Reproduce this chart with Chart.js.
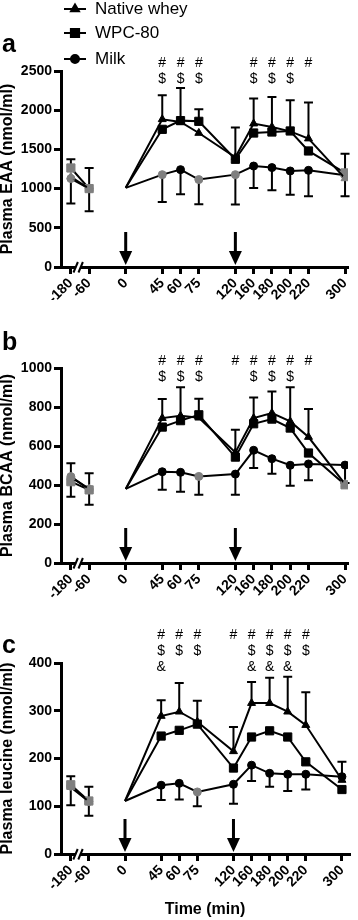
<!DOCTYPE html>
<html>
<head>
<meta charset="utf-8">
<script src="https://cdn.jsdelivr.net/npm/chart.js@4.4.1/dist/chart.umd.min.js"></script>
<style>
  html, body { margin: 0; padding: 0; background: #fff; }
  #figure { position: relative; width: 358px; height: 920px; }
  canvas { position: absolute; left: 0; }
</style>
</head>
<body>
<div id="figure">
  <canvas id="panelA" width="358" height="300" style="top:0"></canvas>
  <canvas id="panelB" width="358" height="300" style="top:300px"></canvas>
  <canvas id="panelC" width="358" height="320" style="top:600px"></canvas>
</div>
<script>
// sampling times (min)
const times = ['-180', '-60', '0', '45', '60', '75', '120', '160', '180', '200', '220', '300'];
// x axis is not to scale: one slot per label, null = empty spacer slot
const axisSlots = ['-180', '-60', null, '0', null, '45', '60', '75', null, '120', '160', '180', '200', '220', null, '300'];
const doseTimes = ['0', '120'];
const seriesNames = ['Native whey', 'WPC-80', 'Milk'];

// a: plasma EAA (nmol/ml)
const eaaWhey = [1150, 1000, 1010, 1884, 1850, 1709, 1400, 1829, 1786, 1730, 1638, 1130];
const eaaWpc  = [1263, 1000, 1010, 1756, 1867, 1858, 1374, 1709, 1722, 1735, 1480, 1200];
const eaaMilk = [1128, 1000, 1010, 1178, 1242, 1115, 1178, 1288, 1268, 1225, 1233, 1170];
const eaaWheySd = [null, null, null, 306, null, null, 378, 319, 383, 396, 459, 315];
const eaaWpcSd  = [112, 262, null, null, 416, 153, null, null, null, null, null, null];
const eaaMilkSd = [319, 290, null, 348, 315, 315, 382, 280, 290, 302, 331, 268];
const eaaSig = ['', '', '', '#$', '#$', '#$', '', '#$', '#$', '#$', '#', ''];

// b: plasma BCAA (nmol/ml)
const bcaaWhey = [440, 380, 380, 743, 755, 745, 567, 743, 769, 726, 646, 405];
const bcaaWpc  = [417, 375, 380, 697, 730, 760, 543, 714, 738, 692, 564, 401];
const bcaaMilk = [443, 378, 380, 468, 465, 444, 456, 578, 535, 501, 508, 502];
const bcaaWheySd = [71, 80, null, 98, 146, 97, 116, 106, 111, 175, 144, null];
const bcaaWpcSd  = [null, null, null, null, null, null, null, null, null, null, null, null];
const bcaaMilkSd = [103, 79, null, 92, 99, 94, 106, 91, 77, 105, 84, 92];
const bcaaSig = ['', '', '', '#$', '#$', '#$', '#', '#$', '#$', '#$', '#', ''];

// c: plasma leucine (nmol/ml)
const leuWhey = [140, 110, 111, 289, 298, 277, 215, 316, 316, 298, 270, 155];
const leuWpc  = [145, 111, 111, 247, 259, 272, 180, 245, 258, 245, 193, 135];
const leuMilk = [142, 110, 111, 144, 148, 130, 146, 186, 169, 167, 167, 162];
const leuWheySd = [23, 31, null, 33, 60, 44, 51, 44, 53, 73, 69, 38];
const leuWpcSd  = [null, null, null, null, null, null, null, null, null, null, null, null];
const leuMilkSd = [40, 30, null, 31, 34, 30, 41, 33, 28, 35, 32, null];
const leuSig = ['', '', '', '#$&', '#$', '#$', '#', '#$&', '#$&', '#$&', '#$', ''];

// points shown in grey
const greyEaa  = [['-180', '-60', '300'], ['-180', '-60', '300'], ['-180', '-60', '45', '75', '120', '300']];
const greyBcaa = [['-180', '-60', '300'], ['-180', '-60', '300'], ['-180', '-60', '75']];
const greyLeu  = [['-180', '-60'], ['-180', '-60'], ['-180', '-60', '75']];

const FONT = '"Liberation Sans", Arial, Helvetica, sans-serif';
const GREY = '#7f7f7f';
const pointStyles = ['triangle', 'rect', 'circle'];
const pointRadii = [4.6, 5.8, 4];

const slotOf = (t) => axisSlots.indexOf(t);

const errorBars = {
  id: 'errorBars',
  beforeDatasetsDraw(chart) {
    const { ctx } = chart;
    const yScale = chart.scales.y;
    ctx.save();
    ctx.strokeStyle = '#000';
    ctx.lineWidth = 2;
    chart.data.datasets.forEach((ds, i) => {
      const meta = chart.getDatasetMeta(i);
      ds.sd.forEach((sd, j) => {
        if (sd == null) return;
        const pt = meta.data[j];
        const end = yScale.getPixelForValue(ds.data[j].y + ds.sdSign * sd);
        ctx.beginPath();
        ctx.moveTo(pt.x, pt.y);
        ctx.lineTo(pt.x, end);
        ctx.moveTo(pt.x - 4.5, end);
        ctx.lineTo(pt.x + 4.5, end);
        ctx.stroke();
      });
    });
    ctx.restore();
  },
};

const panelDecor = {
  id: 'panelDecor',
  afterDraw(chart, args, opts) {
    const { ctx, chartArea } = chart;
    const xs = chart.scales.x;
    ctx.save();

    // panel letter
    ctx.fillStyle = '#000';
    ctx.font = `bold 25px ${FONT}`;
    ctx.textAlign = 'left';
    ctx.textBaseline = 'alphabetic';
    ctx.fillText(opts.letter, 2, opts.letterY);

    // significance marks
    ctx.font = `14px ${FONT}`;
    ctx.textAlign = 'center';
    ctx.textBaseline = 'middle';
    opts.sig.forEach((s, j) => {
      const x = xs.getPixelForValue(slotOf(times[j]));
      [...s].forEach((ch, k) => {
        ctx.fillText(ch, x, chartArea.top + opts.sigTop + k * 16);
      });
    });

    // dose arrows
    doseTimes.forEach((t) => {
      const x = xs.getPixelForValue(slotOf(t));
      const b = chartArea.bottom - 2;
      ctx.fillRect(x - 1.5, b - 33, 3, 20);
      ctx.beginPath();
      ctx.moveTo(x - 6.5, b - 14);
      ctx.lineTo(x + 6.5, b - 14);
      ctx.lineTo(x, b);
      ctx.closePath();
      ctx.fill();
    });

    // axis break
    const bx = xs.getPixelForValue(0.4);
    const by = chartArea.bottom;
    ctx.fillStyle = '#fff';
    ctx.fillRect(bx - 2.5, by - 2, 5, 4);
    ctx.strokeStyle = '#000';
    ctx.lineWidth = 2;
    [-2.5, 2.5].forEach((dx) => {
      ctx.beginPath();
      ctx.moveTo(bx + dx - 2.2, by + 5.5);
      ctx.lineTo(bx + dx + 2.2, by - 5);
      ctx.stroke();
    });

    // legend
    if (opts.legend) {
      chart.data.datasets.forEach((ds, i) => {
        const y = opts.legendRows[i];
        ctx.strokeStyle = '#000';
        ctx.lineWidth = 2;
        ctx.beginPath();
        ctx.moveTo(64, y);
        ctx.lineTo(86, y);
        ctx.stroke();
        ctx.fillStyle = '#000';
        Chart.helpers.drawPoint(ctx, { pointStyle: pointStyles[i], radius: pointRadii[i], rotation: 0, borderWidth: 1 }, 75, y);
        ctx.font = `17px ${FONT}`;
        ctx.textAlign = 'left';
        ctx.textBaseline = 'middle';
        ctx.fillText(ds.label, 95, y);
      });
    }
    ctx.restore();
  },
};

const tickFont = { family: FONT, size: 14, weight: 'bold' };

function makePanel(canvasId, cfg) {
  const datasets = cfg.series.map((s, i) => {
    const colorOf = (c) => (s.grey.includes(times[c.dataIndex]) ? GREY : '#000');
    return {
      label: seriesNames[i],
      data: times.map((t, j) => ({ x: slotOf(t), y: s.values[j] })),
      sd: s.sd,
      sdSign: i === 2 ? -1 : 1,
      borderColor: '#000',
      borderWidth: 2,
      tension: 0,
      pointStyle: pointStyles[i],
      pointRadius: (c) => (times[c.dataIndex] === '0' ? 0 : pointRadii[i]),
      pointBackgroundColor: colorOf,
      pointBorderColor: colorOf,
      pointBorderWidth: 1,
      segment: {
        borderColor: (c) => (times[c.p1DataIndex] === '0' ? 'rgba(0,0,0,0)' : undefined),
      },
    };
  });

  return new Chart(document.getElementById(canvasId), {
    type: 'line',
    data: { datasets },
    plugins: [errorBars, panelDecor],
    options: {
      responsive: false,
      animation: false,
      devicePixelRatio: 1,
      events: [],
      layout: { padding: { top: cfg.padTop, right: cfg.padRight, left: 0, bottom: 0 } },
      plugins: {
        legend: { display: false },
        tooltip: { enabled: false },
        panelDecor: cfg.decor,
      },
      scales: {
        x: {
          type: 'linear',
          min: -0.54,
          max: cfg.xMax,
          afterBuildTicks: (scale) => {
            scale.ticks = times.map((t) => ({ value: slotOf(t) }));
          },
          afterFit: (scale) => {
            scale.height = cfg.xHeight;
          },
          ticks: {
            autoSkip: false,
            minRotation: 45,
            maxRotation: 45,
            padding: 1,
            color: '#000',
            font: tickFont,
            callback: (v) => axisSlots[v],
          },
          grid: { drawOnChartArea: false, color: '#000', lineWidth: 3, tickWidth: 3, tickLength: 7 },
          border: { color: '#000', width: 3 },
          title: {
            display: !!cfg.xTitle,
            text: cfg.xTitle || '',
            color: '#000',
            font: { family: FONT, size: 16, weight: 'bold', lineHeight: 1 },
            padding: { top: 0, bottom: 2 },
          },
        },
        y: {
          min: 0,
          max: cfg.yMax,
          afterFit: (scale) => {
            scale.width = 61;
          },
          ticks: { stepSize: cfg.yStep, padding: 2, color: '#000', font: tickFont, callback: (v) => String(v) },
          grid: { drawOnChartArea: false, color: '#000', lineWidth: 3, tickWidth: 3, tickLength: 7 },
          border: { color: '#000', width: 3 },
          title: {
            display: true,
            text: cfg.yTitle,
            color: '#000',
            font: { family: FONT, size: 16, weight: 'bold', lineHeight: 1 },
            padding: 0,
          },
        },
      },
    },
  });
}

makePanel('panelA', {
  series: [
    { values: eaaWhey, sd: eaaWheySd, grey: greyEaa[0] },
    { values: eaaWpc, sd: eaaWpcSd, grey: greyEaa[1] },
    { values: eaaMilk, sd: eaaMilkSd, grey: greyEaa[2] },
  ],
  yMax: 2500, yStep: 500, yTitle: 'Plasma EAA (nmol/ml)',
  padTop: 71, padRight: 8, xHeight: 33, xMax: 15.16,
  decor: { letter: 'a', letterY: 52, sig: eaaSig, sigTop: -8, legend: true, legendRows: [9, 33, 59] },
});

makePanel('panelB', {
  series: [
    { values: bcaaWhey, sd: bcaaWheySd, grey: greyBcaa[0] },
    { values: bcaaWpc, sd: bcaaWpcSd, grey: greyBcaa[1] },
    { values: bcaaMilk, sd: bcaaMilkSd, grey: greyBcaa[2] },
  ],
  yMax: 1000, yStep: 200, yTitle: 'Plasma BCAA (nmol/ml)',
  padTop: 68, padRight: 8, xHeight: 37, xMax: 15.16,
  decor: { letter: 'b', letterY: 50, sig: bcaaSig, sigTop: -7, legend: false },
});

makePanel('panelC', {
  series: [
    { values: leuWhey, sd: leuWheySd, grey: greyLeu[0] },
    { values: leuWpc, sd: leuWpcSd, grey: greyLeu[1] },
    { values: leuMilk, sd: leuMilkSd, grey: greyLeu[2] },
  ],
  yMax: 400, yStep: 100, yTitle: 'Plasma leucine (nmol/ml)',
  padTop: 63, padRight: 9, xHeight: 66, xMax: 15.39, xTitle: 'Time (min)',
  decor: { letter: 'c', letterY: 53, sig: leuSig, sigTop: -28, legend: false },
});
</script>
</body>
</html>
